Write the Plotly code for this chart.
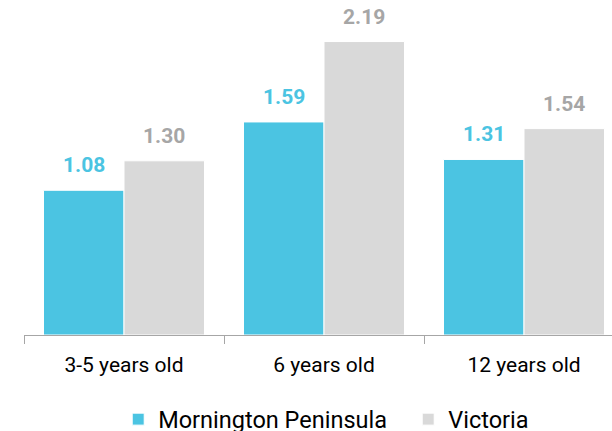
import plotly.graph_objects as go

categories = ["3-5 years old", "6 years old", "12 years old"]
mornington = [1.08, 1.59, 1.31]
victoria = [1.30, 2.19, 1.54]
series_names = ["Mornington Peninsula", "Victoria"]

CYAN = "#4BC4E2"
GREY = "#D9D9D9"
GREY_TXT = "#A6A6A6"
FONT = "Roboto"

fig = go.Figure()
fig.add_trace(go.Bar(x=categories, y=mornington, name=series_names[0],
                     marker=dict(color=CYAN, line=dict(color="white", width=1))))
fig.add_trace(go.Bar(x=categories, y=victoria, name=series_names[1],
                     marker=dict(color=GREY, line=dict(color="white", width=1))))

offset_px = 40
for i, c in enumerate(categories):
    fig.add_annotation(x=c, y=mornington[i], text=f"<b>{mornington[i]:.2f}</b>",
                       xshift=-offset_px, yshift=11, yanchor="bottom", showarrow=False,
                       font=dict(family=FONT, size=21, color=CYAN))
    fig.add_annotation(x=c, y=victoria[i], text=f"<b>{victoria[i]:.2f}</b>",
                       xshift=offset_px, yshift=11, yanchor="bottom", showarrow=False,
                       font=dict(family=FONT, size=21, color=GREY_TXT))

fig.update_layout(
    width=612, height=431,
    margin=dict(l=24, r=0, t=0, b=96, autoexpand=False),
    paper_bgcolor="white", plot_bgcolor="white",
    barmode="group", bargap=0.195, bargroupgap=0,
    font=dict(family=FONT, size=21, color="#000000"),
    showlegend=True,
    legend=dict(orientation="h", xref="container", yref="container",
                x=0.667, xanchor="center", y=0.027, yanchor="middle",
                font=dict(family=FONT, size=23.5, color="#000000"), itemwidth=30,
                entrywidth=245, entrywidthmode="pixels",
                traceorder="normal"),
    xaxis=dict(range=[-0.5, 2.44], showline=True, linecolor="#A6A6A6", linewidth=1,
               ticks="outside", tickson="boundaries", ticklen=8, tickcolor="#A6A6A6",
               ticklabelstandoff=11, automargin=False,
               tickfont=dict(family=FONT, size=21, color="#000000"), showgrid=False),
    yaxis=dict(range=[0, 2.5], visible=False, showgrid=False, automargin=False),
)

fig.write_html("out.html", config={"displayModeBar": False},
               post_script="document.body.style.margin='0';document.body.style.overflow='hidden';")
